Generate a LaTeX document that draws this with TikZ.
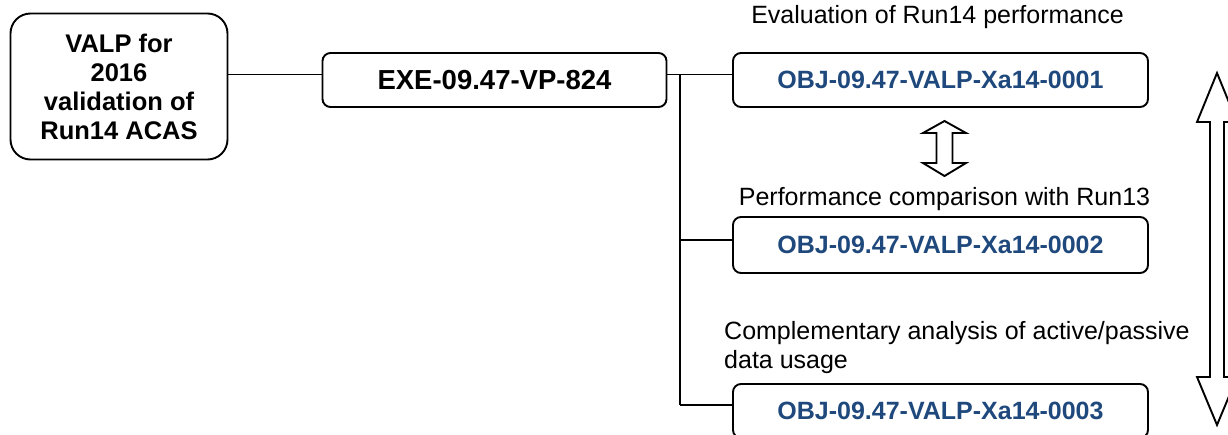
\documentclass[tikz,border=0pt]{standalone}
\usepackage{fontspec}
\setmainfont{Liberation Sans}
\definecolor{objblue}{RGB}{31,73,125}
\begin{document}
\begin{tikzpicture}[x=1pt,y=-1pt,
  box/.style={draw=black, line width=1.9pt, rounded corners=8pt, inner sep=0pt, align=center, font=\bfseries\fontsize{25}{29}\selectfont},
  objbox/.style={box, minimum width=415pt, minimum height=54pt, text=objblue},
  lab/.style={inner sep=0pt, align=left, font=\fontsize{25}{29}\selectfont},
  conn/.style={line width=1.9pt},
  dblarrow/.style={draw=black, line width=1.9pt, fill=white, line join=miter}]
\fill[white] (0,0) rectangle (1228,434);
\useasboundingbox (0,0) rectangle (1228,434);

% boxes
\node[box, rounded corners=20pt, minimum width=217pt, minimum height=146pt, font=\bfseries\fontsize{25.5}{29}\selectfont] (vb) at (119,86.5) {VALP for\\2016\\validation of\\Run14 ACAS};
\node[box, minimum width=344pt, minimum height=54pt, font=\bfseries\fontsize{27.5}{32}\selectfont] (exe) at (494.5,80) {EXE-09.47-VP-824};
\node[objbox] (o1) at (940.5,80) {OBJ-09.47-VALP-Xa14-0001};
\node[objbox, minimum height=56pt] (o2) at (940.5,245) {OBJ-09.47-VALP-Xa14-0002};
\node[objbox] (o3) at (940.5,411) {OBJ-09.47-VALP-Xa14-0003};

% labels
\node[lab] (l1) at (937.5,17) {Evaluation of Run14 performance};
\node[lab] (l2) at (944.5,199) {Performance comparison with Run13};
\node[lab, anchor=north west] (l3) at (724,321) {Complementary analysis of active/passive\\data usage};

% connectors
\coordinate (j1) at (680,74.5);
\coordinate (j2) at (680,240);
\coordinate (j3) at (680,405);
\draw[conn] (vb.east |- j1) -- (exe.west |- j1);
\draw[conn] (exe.east |- j1) -- (o1.west |- j1);
\draw[conn] (j1) -- (j3);
\draw[conn] (j2) -- (o2.west |- j2);
\draw[conn] (j3) -- (o3.west |- j3);

% small double arrow
\draw[dblarrow] (944.5,121) -- (966,133) -- (952.5,133) -- (952.5,163) -- (966,163) -- (944.5,176)
  -- (923,163) -- (936.5,163) -- (936.5,133) -- (923,133) -- cycle;

% big double arrow
\draw[dblarrow] (1217,73) -- (1237,122) -- (1224,122) -- (1224,377) -- (1237,377) -- (1217,425)
  -- (1197,377) -- (1210,377) -- (1210,122) -- (1197,122) -- cycle;
\end{tikzpicture}
\end{document}
